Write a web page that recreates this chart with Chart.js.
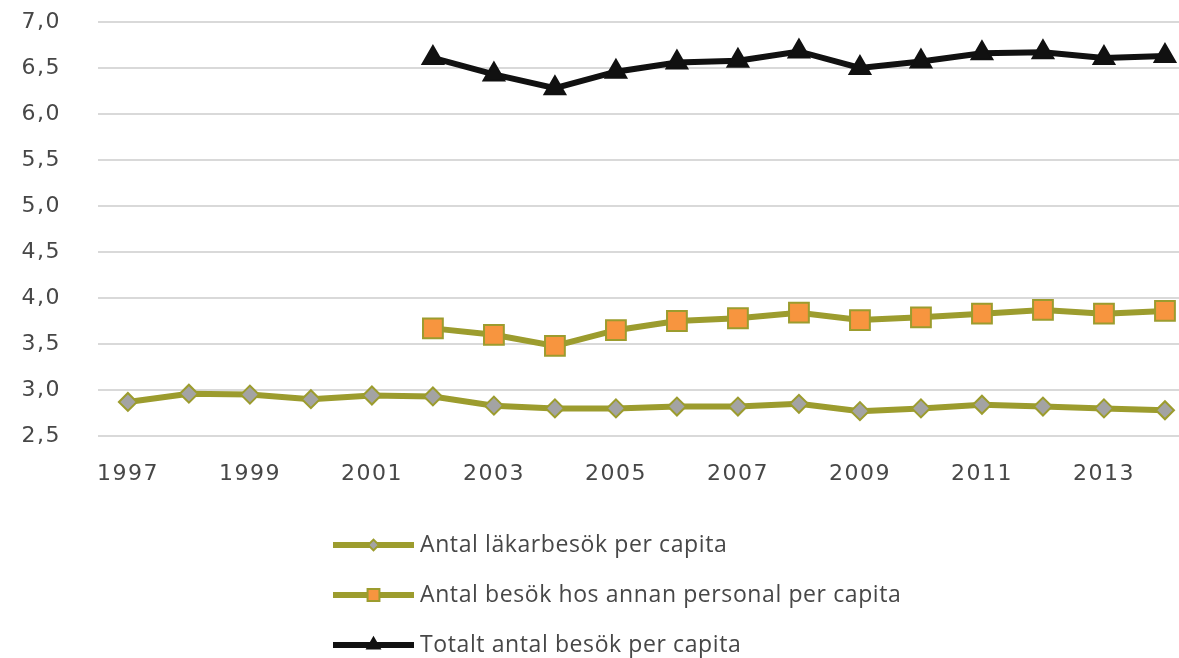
<!DOCTYPE html>
<html lang="sv">
<head>
<meta charset="utf-8">
<title>Besök per capita</title>
<script src="https://cdn.jsdelivr.net/npm/chart.js@4/dist/chart.umd.min.js"></script>
<style>
  html, body { margin: 0; padding: 0; background: #ffffff; }
  #wrap { width: 1179px; height: 658px; overflow: hidden; }
</style>
</head>
<body>
<div id="wrap"><canvas id="chart" width="1179" height="658"></canvas></div>
<script>
// Years on the horizontal axis
const years = [1997, 1998, 1999, 2000, 2001, 2002, 2003, 2004, 2005,
               2006, 2007, 2008, 2009, 2010, 2011, 2012, 2013, 2014];

// Labelled years under the axis
const yearTicks = [1997, 1999, 2001, 2003, 2005, 2007, 2009, 2011, 2013];

// Series values per capita (null = no figure for that year)
const lakarbesok = [2.87, 2.96, 2.95, 2.90, 2.94, 2.93, 2.83, 2.80, 2.80,
                    2.82, 2.82, 2.85, 2.77, 2.80, 2.84, 2.82, 2.80, 2.78];
const annanPersonal = [null, null, null, null, null, 3.67, 3.60, 3.48, 3.65,
                       3.75, 3.78, 3.84, 3.76, 3.79, 3.83, 3.87, 3.83, 3.86];
const totalt = [null, null, null, null, null, 6.61, 6.43, 6.28, 6.46,
                6.56, 6.58, 6.68, 6.50, 6.57, 6.66, 6.67, 6.61, 6.63];

const seriesNames = [
  'Antal läkarbesök per capita',
  'Antal besök hos annan personal per capita',
  'Totalt antal besök per capita'
];

const OLIVE = '#9c9c2e';
const TEXT = '#474747';
const AXIS_FONT = { family: 'DejaVu Sans', size: 22 };

const toPoints = vals => years.map((yr, i) => ({ x: yr, y: vals[i] }));

// Slightly wider lettering for the axis labels
const wideText = {
  id: 'wideText',
  beforeUpdate(chart) { chart.ctx.letterSpacing = '1.5px'; },
  beforeDraw(chart) { chart.ctx.letterSpacing = '1.5px'; }
};

// Axis label overflow is allowed to spill into the margins
const noLabelPadding = scale => {
  scale.paddingTop = 0;
  scale.paddingBottom = 0;
  scale.paddingLeft = 0;
  scale.paddingRight = 0;
};

// Legend drawn as a stacked list below the plot: line sample with marker, then name
const stackedLegend = {
  id: 'stackedLegend',
  afterDraw(chart, args, opts) {
    const ctx = chart.ctx;
    ctx.save();
    chart.data.datasets.forEach((ds, i) => {
      const y = opts.top + i * opts.rowGap;
      ctx.strokeStyle = ds.borderColor;
      ctx.lineWidth = ds.borderWidth;
      ctx.beginPath();
      ctx.moveTo(opts.lineStart, y);
      ctx.lineTo(opts.lineEnd, y);
      ctx.stroke();
      ctx.fillStyle = ds.pointBackgroundColor;
      ctx.strokeStyle = ds.pointBorderColor;
      ctx.lineWidth = ds.pointBorderWidth;
      Chart.helpers.drawPoint(ctx, {
        pointStyle: ds.pointStyle,
        radius: ds.pointRadius * opts.markerScale,
        rotation: 0,
        borderWidth: ds.pointBorderWidth
      }, (opts.lineStart + opts.lineEnd) / 2, y);
      ctx.fillStyle = TEXT;
      ctx.font = opts.font;
      ctx.letterSpacing = opts.letterSpacing;
      ctx.textAlign = 'left';
      ctx.textBaseline = 'middle';
      ctx.fillText(ds.label, opts.textStart, y);
    });
    ctx.restore();
  }
};

new Chart(document.getElementById('chart'), {
  type: 'line',
  data: {
    datasets: [
      {
        label: seriesNames[0],
        data: toPoints(lakarbesok),
        borderColor: OLIVE,
        borderWidth: 6,
        pointStyle: 'rectRot',
        pointRadius: 9,
        pointBackgroundColor: '#a3a3a3',
        pointBorderColor: OLIVE,
        pointBorderWidth: 2
      },
      {
        label: seriesNames[1],
        data: toPoints(annanPersonal),
        borderColor: OLIVE,
        borderWidth: 6,
        pointStyle: 'rect',
        pointRadius: 14,
        pointBackgroundColor: '#f7953f',
        pointBorderColor: OLIVE,
        pointBorderWidth: 2
      },
      {
        label: seriesNames[2],
        data: toPoints(totalt),
        borderColor: '#111111',
        borderWidth: 6,
        pointStyle: 'triangle',
        pointRadius: 12,
        pointBackgroundColor: '#111111',
        pointBorderColor: '#111111',
        pointBorderWidth: 2
      }
    ]
  },
  options: {
    responsive: false,
    animation: false,
    events: [],
    layout: { autoPadding: false, padding: { top: 22, right: 0, bottom: 162, left: 0 } },
    scales: {
      x: {
        type: 'linear',
        min: 1996.51,
        max: 2014.23,
        afterBuildTicks: scale => { scale.ticks = yearTicks.map(v => ({ value: v })); },
        afterFit: scale => { scale.height = 60; noLabelPadding(scale); },
        grid: { display: false, drawTicks: false },
        border: { display: false },
        ticks: {
          padding: 25,
          color: TEXT,
          font: AXIS_FONT,
          maxRotation: 0,
          autoSkip: false,
          callback: v => String(v)
        }
      },
      y: {
        min: 2.5,
        max: 7.0,
        afterFit: scale => { scale.width = 98; noLabelPadding(scale); },
        grid: { color: '#d9d9d9', lineWidth: 2, drawTicks: false },
        border: { display: false },
        ticks: {
          stepSize: 0.5,
          padding: 37,
          color: TEXT,
          font: AXIS_FONT,
          callback: v => v.toFixed(1).replace('.', ',')
        }
      }
    },
    plugins: {
      legend: { display: false },
      tooltip: { enabled: false },
      stackedLegend: {
        top: 545,
        rowGap: 50,
        lineStart: 333,
        lineEnd: 414,
        textStart: 420,
        markerScale: 0.6,
        font: '23px "Open Sans"',
        letterSpacing: '0.6px'
      }
    }
  },
  plugins: [wideText, stackedLegend]
});
</script>
</body>
</html>
